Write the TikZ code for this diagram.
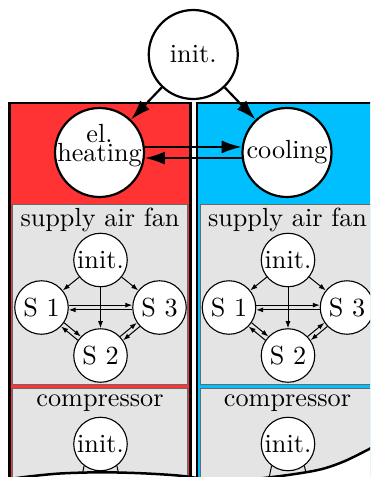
\documentclass[tikz,border=0pt]{standalone}
\usetikzlibrary{arrows.meta}
\font\lblfont="[lmroman10-regular]" at 26.2pt
\definecolor{boxred}{RGB}{255,51,51}
\definecolor{boxblue}{RGB}{0,191,255}
\definecolor{boxgray}{RGB}{228,228,228}
\definecolor{boxline}{RGB}{105,105,105}
\tikzset{
 bigstate/.style={circle, draw, fill=white, line width=2.2pt, minimum size=89pt, inner sep=0pt, font=\lblfont},
 smallstate/.style={circle, draw, fill=white, line width=1.1pt, minimum size=53.5pt, inner sep=0pt, font=\lblfont},
 bigarrow/.style={line width=2.2pt, -{Latex[length=20pt,width=13pt]}},
 smallarrow/.style={line width=1pt, -{Latex[length=7pt,width=5pt]}},
 smallline/.style={line width=1pt},
 column/.style={draw=black, line width=2.5pt},
 subbox/.style={fill=boxgray, draw=boxline, line width=0.9pt},
 title/.style={font=\lblfont, anchor=base, inner sep=0pt},
 tornedge/.style={line width=2.5pt, line cap=round},
}
\begin{document}
\begin{tikzpicture}[x=1pt,y=-1pt]
\useasboundingbox (0,0) rectangle (370,477);
\clip (0,0) rectangle (370,477);
% columns
\path[column, fill=boxred] (9.5,103) rectangle (190.5,520);
\path[column, fill=boxblue] (197,103) rectangle (378,520);
\path[subbox] (12.5,204) rectangle (187.5,384.5);
\path[subbox] (12.5,388) rectangle (187.5,530);
\path[subbox] (200,204) rectangle (375,384.5);
\path[subbox] (200,388) rectangle (375,530);
% top level
\node[bigstate] (init) at (193.25,54.5) {init.};
\node[bigstate] (heat) at (99.5,152.5) {\raisebox{-8.5pt}[0pt][0pt]{\vbox{\baselineskip=19pt\lineskiplimit=-100pt\hbox to 0pt{\hss el.\hss}\hbox to 0pt{\hss heating\hss}}}};
\node[bigstate] (cool) at (287,152.5) {cooling};
\draw[bigarrow] (init) -- (heat);
\draw[bigarrow] (init) -- (cool);
\draw[bigarrow] (heat.7) -- (cool.173);
\draw[bigarrow] (cool.187) -- (heat.-7);
% sub machines
\foreach \col/\dx in {L/0,R/187.5}{
 \node[title] (\col fan) at (100+\dx,226.7) {supply air fan};
 \node[smallstate] (\col i) at (100.5+\dx,260) {init.};
 \node[smallstate] (\col s1) at (41.5+\dx,307.5) {S 1};
 \node[smallstate] (\col s3) at (159.5+\dx,307.5) {S 3};
 \node[smallstate] (\col s2) at (100.5+\dx,355.5) {S 2};
 \draw[smallarrow] (\col i) -- (\col s1);
 \draw[smallarrow] (\col i) -- (\col s3);
 \draw[smallarrow] (\col i) -- (\col s2);
 \draw[smallarrow] (\col s1.5) -- (\col s3.175);
 \draw[smallarrow] (\col s3.185) -- (\col s1.-5);
 \draw[smallarrow] (\col s1.-34) -- (\col s2.136);
 \draw[smallarrow] (\col s2.146) -- (\col s1.-44);
 \draw[smallarrow] (\col s2.44) -- (\col s3.214);
 \draw[smallarrow] (\col s3.224) -- (\col s2.34);
 \node[title] (\col comp) at (100+\dx,406.7) {compressor};
 \node[smallstate] (\col ci) at (100.5+\dx,444) {init.};
 \coordinate (\col ca) at (78+\dx,495);
 \coordinate (\col cb) at (123+\dx,495);
 \draw[smallline] (\col ci.-127) -- (\col ca);
 \draw[smallline] (\col ci.-53) -- (\col cb);
}
% torn lower edge
\fill[white] plot[smooth] coordinates {(-5,481) (27,476.7) (60,473.5) (100,472.3) (140,473.2) (180,475.7) (225,481) (275,476.7) (318,470) (345,461) (375,446)} -- (375,495) -- (-5,495) -- cycle;
\draw[tornedge] plot[smooth] coordinates {(-5,481) (27,476.7) (60,473.5) (100,472.3) (140,473.2) (180,475.7) (225,481) (275,476.7) (318,470) (345,461) (375,446)};
\end{tikzpicture}
\end{document}
